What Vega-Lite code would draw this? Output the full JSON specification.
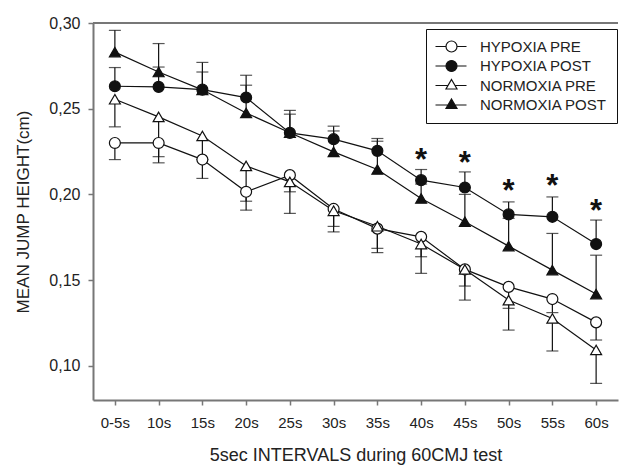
{
  "$schema": "https://vega.github.io/schema/vega-lite/v6.json",
  "autosize": {"type": "none"},
  "padding": {"left": 93, "top": 23, "right": 1, "bottom": 68},
  "width": 525,
  "height": 377,
  "background": "white",
  "config": {
    "view": {"stroke": null},
    "font": "Liberation Sans",
    "axis": {"labelFont": "Liberation Sans", "titleFont": "Liberation Sans", "labelColor": "#222", "titleColor": "#222", "titleFontWeight": "normal", "domainColor": "#777", "domainWidth": 2, "tickColor": "#777", "tickWidth": 1.5, "grid": false},
    "legend": {"labelFont": "Liberation Sans"}
  },
  "datasets": {
    "jump": [
      {"t": "0-5s", "g": "HYPOXIA PRE", "m": 0.230, "e": 0.2203},
      {"t": "10s", "g": "HYPOXIA PRE", "m": 0.230, "e": 0.222},
      {"t": "15s", "g": "HYPOXIA PRE", "m": 0.2203, "e": 0.2093},
      {"t": "20s", "g": "HYPOXIA PRE", "m": 0.2015, "e": 0.1908},
      {"t": "25s", "g": "HYPOXIA PRE", "m": 0.2112, "e": 0.1889},
      {"t": "30s", "g": "HYPOXIA PRE", "m": 0.1915, "e": 0.1781},
      {"t": "35s", "g": "HYPOXIA PRE", "m": 0.180, "e": 0.166},
      {"t": "40s", "g": "HYPOXIA PRE", "m": 0.1752, "e": 0.1636},
      {"t": "45s", "g": "HYPOXIA PRE", "m": 0.1562, "e": 0.1383},
      {"t": "50s", "g": "HYPOXIA PRE", "m": 0.146, "e": 0.1335},
      {"t": "55s", "g": "HYPOXIA PRE", "m": 0.1389, "e": 0.131},
      {"t": "60s", "g": "HYPOXIA PRE", "m": 0.1253, "e": 0.115},
      {"t": "0-5s", "g": "HYPOXIA POST", "m": 0.2631, "e": 0.274},
      {"t": "10s", "g": "HYPOXIA POST", "m": 0.2627, "e": 0.2743},
      {"t": "15s", "g": "HYPOXIA POST", "m": 0.2611, "e": 0.2714},
      {"t": "20s", "g": "HYPOXIA POST", "m": 0.2565, "e": 0.2695},
      {"t": "25s", "g": "HYPOXIA POST", "m": 0.2359, "e": 0.2468},
      {"t": "30s", "g": "HYPOXIA POST", "m": 0.2322, "e": 0.2398},
      {"t": "35s", "g": "HYPOXIA POST", "m": 0.2254, "e": 0.2326},
      {"t": "40s", "g": "HYPOXIA POST", "m": 0.2083, "e": 0.2145},
      {"t": "45s", "g": "HYPOXIA POST", "m": 0.204, "e": 0.2131},
      {"t": "50s", "g": "HYPOXIA POST", "m": 0.1883, "e": 0.1956},
      {"t": "55s", "g": "HYPOXIA POST", "m": 0.1869, "e": 0.1985},
      {"t": "60s", "g": "HYPOXIA POST", "m": 0.171, "e": 0.185},
      {"t": "0-5s", "g": "NORMOXIA PRE", "m": 0.2555, "e": 0.2394},
      {"t": "10s", "g": "NORMOXIA PRE", "m": 0.2452, "e": 0.2184},
      {"t": "15s", "g": "NORMOXIA PRE", "m": 0.2341, "e": 0.2203},
      {"t": "20s", "g": "NORMOXIA PRE", "m": 0.2166, "e": 0.196},
      {"t": "25s", "g": "NORMOXIA PRE", "m": 0.2073, "e": 0.2015},
      {"t": "30s", "g": "NORMOXIA PRE", "m": 0.1904, "e": 0.1813},
      {"t": "35s", "g": "NORMOXIA PRE", "m": 0.1814, "e": 0.1685},
      {"t": "40s", "g": "NORMOXIA PRE", "m": 0.171, "e": 0.1539},
      {"t": "45s", "g": "NORMOXIA PRE", "m": 0.1562, "e": 0.1465},
      {"t": "50s", "g": "NORMOXIA PRE", "m": 0.1383, "e": 0.1208},
      {"t": "55s", "g": "NORMOXIA PRE", "m": 0.1276, "e": 0.1086},
      {"t": "60s", "g": "NORMOXIA PRE", "m": 0.1092, "e": 0.0897},
      {"t": "0-5s", "g": "NORMOXIA POST", "m": 0.283, "e": 0.2957},
      {"t": "10s", "g": "NORMOXIA POST", "m": 0.2714, "e": 0.288},
      {"t": "15s", "g": "NORMOXIA POST", "m": 0.261, "e": 0.277},
      {"t": "20s", "g": "NORMOXIA POST", "m": 0.2475, "e": 0.2637},
      {"t": "25s", "g": "NORMOXIA POST", "m": 0.236, "e": 0.249},
      {"t": "30s", "g": "NORMOXIA POST", "m": 0.2248, "e": 0.237},
      {"t": "35s", "g": "NORMOXIA POST", "m": 0.2145, "e": 0.231},
      {"t": "40s", "g": "NORMOXIA POST", "m": 0.1976, "e": 0.206},
      {"t": "45s", "g": "NORMOXIA POST", "m": 0.184, "e": 0.200},
      {"t": "50s", "g": "NORMOXIA POST", "m": 0.1698, "e": 0.186},
      {"t": "55s", "g": "NORMOXIA POST", "m": 0.1558, "e": 0.1772},
      {"t": "60s", "g": "NORMOXIA POST", "m": 0.1418, "e": 0.1645}
    ],
    "stars": [
      {"t": "40s", "s": 0.2238},
      {"t": "45s", "s": 0.2219},
      {"t": "50s", "s": 0.2054},
      {"t": "55s", "s": 0.2083},
      {"t": "60s", "s": 0.1937}
    ]
  },
  "data": {"name": "jump"},
  "layer": [
    {
      "mark": {"type": "line", "color": "#111", "strokeWidth": 1.2},
      "encoding": {
        "x": {
          "field": "t", "type": "ordinal",
          "sort": ["0-5s", "10s", "15s", "20s", "25s", "30s", "35s", "40s", "45s", "50s", "55s", "60s"],
          "scale": {"type": "point", "paddingOuter": 1},
          "axis": {"title": "5sec INTERVALS during 60CMJ test", "labelAngle": 0, "labelFontSize": 15, "titleFontSize": 18, "tickSize": 5, "labelPadding": 10, "titlePadding": 16}
        },
        "y": {"field": "m", "type": "quantitative", "scale": {"domain": [0.08, 0.30], "nice": false, "zero": false},
          "axis": {"title": "MEAN JUMP HEIGHT(cm)", "values": [0.10, 0.15, 0.20, 0.25, 0.30], "labelExpr": "replace(format(datum.value, '.2f'), '.', ',')", "labelFontSize": 16, "titleFontSize": 17, "tickSize": 5, "labelPadding": 8, "titlePadding": 16}},
        "detail": {"field": "g"}
      }
    },
    {
      "mark": {"type": "rule", "color": "#111", "strokeWidth": 1.2},
      "encoding": {
        "x": {"field": "t", "type": "ordinal", "sort": ["0-5s", "10s", "15s", "20s", "25s", "30s", "35s", "40s", "45s", "50s", "55s", "60s"]},
        "y": {"field": "m", "type": "quantitative"},
        "y2": {"field": "e"}
      }
    },
    {
      "mark": {"type": "tick", "color": "#111", "thickness": 1.2, "size": 12},
      "encoding": {
        "x": {"field": "t", "type": "ordinal", "sort": ["0-5s", "10s", "15s", "20s", "25s", "30s", "35s", "40s", "45s", "50s", "55s", "60s"]},
        "y": {"field": "e", "type": "quantitative"}
      }
    },
    {
      "mark": {"type": "point", "filled": false, "stroke": "#111", "strokeWidth": 1.2, "size": 120, "opacity": 1},
      "encoding": {
        "x": {"field": "t", "type": "ordinal", "sort": ["0-5s", "10s", "15s", "20s", "25s", "30s", "35s", "40s", "45s", "50s", "55s", "60s"]},
        "y": {"field": "m", "type": "quantitative"},
        "shape": {"field": "g", "type": "nominal", "legend": null,
          "scale": {"domain": ["HYPOXIA PRE", "HYPOXIA POST", "NORMOXIA PRE", "NORMOXIA POST"], "range": ["circle", "circle", "triangle-up", "triangle-up"]}},
        "fill": {"field": "g", "type": "nominal", "legend": null,
          "scale": {"domain": ["HYPOXIA PRE", "HYPOXIA POST", "NORMOXIA PRE", "NORMOXIA POST"], "range": ["white", "#111", "white", "#111"]}}
      }
    },
    {
      "data": {"name": "stars"},
      "mark": {"type": "text", "text": "*", "fontSize": 31, "fontWeight": "bold", "fill": "#111", "baseline": "middle", "dy": 7},
      "encoding": {
        "x": {"field": "t", "type": "ordinal", "sort": ["0-5s", "10s", "15s", "20s", "25s", "30s", "35s", "40s", "45s", "50s", "55s", "60s"]},
        "y": {"field": "s", "type": "quantitative"}
      }
    },
    {
      "mark": {"type": "rule", "color": "#777", "strokeWidth": 2},
      "encoding": {"y": {"datum": 0.30}}
    },
    {
      "transform": [{"filter": "datum.m < 0"}],
      "mark": {"type": "point", "filled": false, "strokeWidth": 1.2, "opacity": 1},
      "encoding": {
        "x": {"field": "t", "type": "ordinal", "sort": ["0-5s", "10s", "15s", "20s", "25s", "30s", "35s", "40s", "45s", "50s", "55s", "60s"]},
        "y": {"field": "m", "type": "quantitative"},
        "shape": {"field": "g", "type": "nominal",
          "scale": {"domain": ["HYPOXIA PRE", "HYPOXIA POST", "NORMOXIA PRE", "NORMOXIA POST"],
            "range": [
              "M-1.6,0L0.5,0M2.7,0L4.6,0M0.5,0A1.1,1.1,0,1,1,2.7,0A1.1,1.1,0,1,1,0.5,0Z",
              "M-1.6,0L0.5,0M2.7,0L4.6,0M0.5,0A1.1,1.1,0,1,1,2.7,0A1.1,1.1,0,1,1,0.5,0Z",
              "M-1.6,0L0.91,0M2.29,0L4.6,0M1.6,-1.2L2.7,0.7L0.5,0.7Z",
              "M-1.6,0L0.91,0M2.29,0L4.6,0M1.6,-1.2L2.7,0.7L0.5,0.7Z"
            ]},
          "legend": {"title": null, "orient": "none", "legendX": 333, "legendY": 6, "strokeColor": "#111", "fillColor": "white", "padding": 10, "labelFontSize": 15, "labelColor": "#222", "symbolSize": 100, "symbolStrokeWidth": 1.2, "symbolOpacity": 1, "labelOffset": 29, "rowPadding": 2.5}},
        "fill": {"field": "g", "type": "nominal",
          "scale": {"domain": ["HYPOXIA PRE", "HYPOXIA POST", "NORMOXIA PRE", "NORMOXIA POST"], "range": ["white", "#111", "white", "#111"]},
          "legend": {"title": null, "orient": "none", "legendX": 333, "legendY": 6}},
        "stroke": {"field": "g", "type": "nominal",
          "scale": {"domain": ["HYPOXIA PRE", "HYPOXIA POST", "NORMOXIA PRE", "NORMOXIA POST"], "range": ["#111", "#111", "#111", "#111"]},
          "legend": {"title": null, "orient": "none", "legendX": 333, "legendY": 6}}
      }
    }
  ],
  "resolve": {"scale": {"shape": "independent", "fill": "independent", "stroke": "independent"}}
}
